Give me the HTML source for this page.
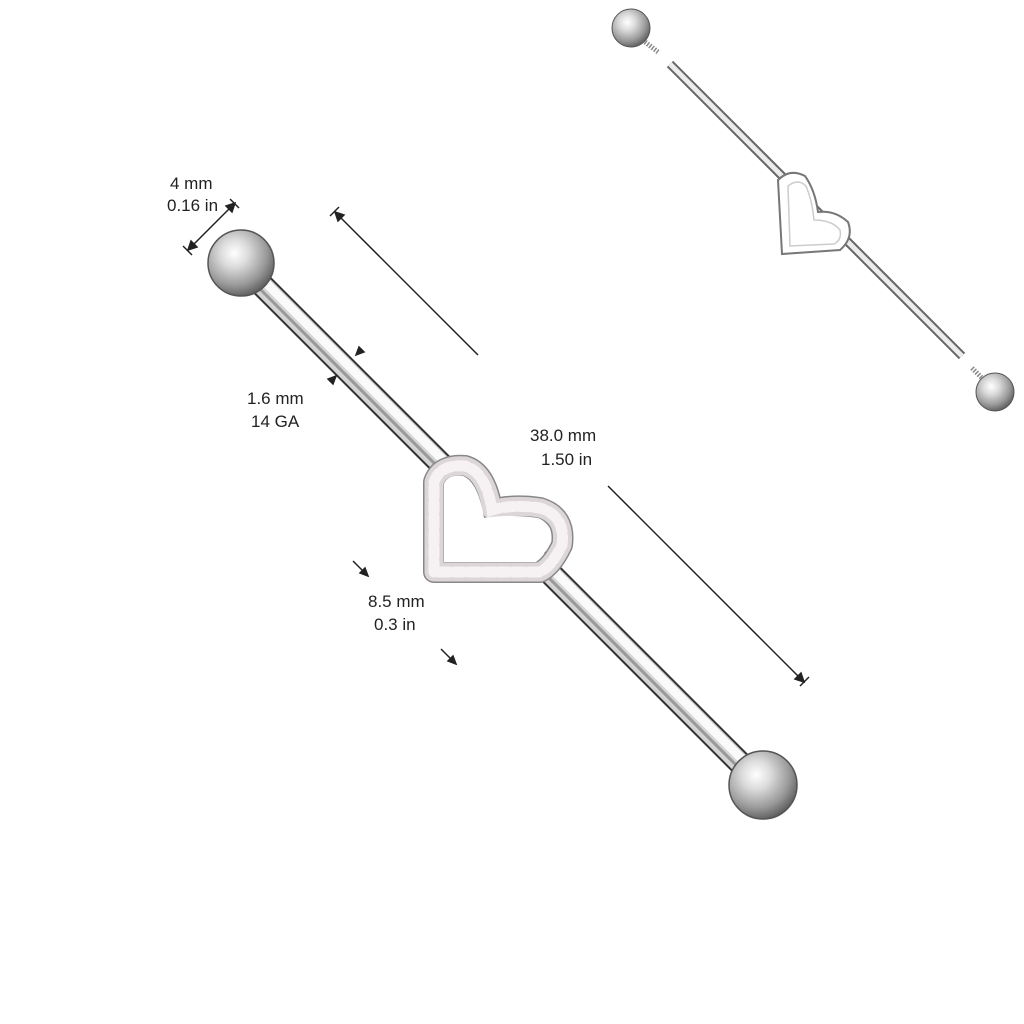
<!DOCTYPE html>
<html><head><style>
body{margin:0;background:#fff;width:1024px;height:1024px;overflow:hidden}
svg{position:absolute;left:0;top:0}
text{font-family:"Liberation Sans",sans-serif;font-size:17px;fill:#222}
</style></head><body>
<svg width="1024" height="1024" viewBox="0 0 1024 1024">
<defs>
<radialGradient id="ball" cx="0.4" cy="0.35" r="0.7">
<stop offset="0" stop-color="#fff"/><stop offset="0.3" stop-color="#dcdcdc"/><stop offset="0.7" stop-color="#999"/><stop offset="1" stop-color="#555"/>
</radialGradient>
</defs>
<g>
<line x1="262" y1="285" x2="742" y2="765" stroke="#333" stroke-width="24"/>
<line x1="262" y1="285" x2="742" y2="765" stroke="#d4d4d4" stroke-width="20"/>
<line x1="265" y1="282" x2="745" y2="762" stroke="#fafafa" stroke-width="9"/>
<line x1="259" y1="288" x2="739" y2="768" stroke="#999" stroke-width="3"/>
</g>
<circle cx="241" cy="263" r="33" fill="url(#ball)" stroke="#555" stroke-width="1.5"/>
<circle cx="763" cy="785" r="34" fill="url(#ball)" stroke="#555" stroke-width="1.5"/>
<path d="M434 572 L434 482 Q440 464 465 466 Q486 472 492 510 Q512 504 540 508 Q566 516 562 545 Q552 566 540 572 Z" fill="none" stroke="#888" stroke-width="22" stroke-linejoin="round"/>
<path d="M434 572 L434 482 Q440 464 465 466 Q486 472 492 510 Q512 504 540 508 Q566 516 562 545 Q552 566 540 572 Z" fill="none" stroke="#dcd6d9" stroke-width="19" stroke-linejoin="round"/>
<path d="M434 572 L434 482 Q440 464 465 466 Q486 472 492 510 Q512 504 540 508 Q566 516 562 545 Q552 566 540 572 Z" fill="none" stroke="#f6f2f4" stroke-width="11" stroke-dasharray="10 5" stroke-linecap="round"/>
<path d="M444 562 L444 484 Q448 474 463 476 Q478 482 484 518 Q510 514 538 518 Q553 524 550 543 Q544 556 536 562 Z" fill="#fff"/>
<line x1="670" y1="64" x2="962" y2="356" stroke="#666" stroke-width="9"/>
<line x1="670" y1="64" x2="962" y2="356" stroke="#ececec" stroke-width="5"/>
<path d="M778 180 Q790 168 805 176 Q815 190 818 212 Q835 210 848 222 Q854 238 840 250 L782 254 Z" fill="#fff" stroke="#777" stroke-width="2"/>
<path d="M788 186 Q798 178 806 186 Q812 200 814 220 Q832 220 840 230 Q842 240 834 244 L790 246 Z" fill="#fff" stroke="#ccc" stroke-width="1.5"/>
<circle cx="631" cy="28" r="19" fill="url(#ball)" stroke="#555"/>
<line x1="645" y1="42" x2="658" y2="52" stroke="#888" stroke-width="5" stroke-dasharray="1.5 1.5"/>
<circle cx="995" cy="392" r="19" fill="url(#ball)" stroke="#555"/>
<line x1="972" y1="368" x2="982" y2="378" stroke="#888" stroke-width="5" stroke-dasharray="1.5 1.5"/>
<g stroke="#222" stroke-width="1.5" fill="#222">
<line x1="188" y1="250" x2="235" y2="203"/>
<path d="M188 250 l3 -9 l6 6 z M235 203 l-3 9 l-6 -6 z"/>
<line x1="183" y1="246" x2="192" y2="255"/><line x1="230" y1="199" x2="239" y2="208"/>
<line x1="335" y1="212" x2="478" y2="355"/>
<line x1="608" y1="486" x2="804" y2="682"/>
<path d="M335 212 l9 3 l-6 6 z M804 682 l-9 -3 l6 -6 z"/>
<line x1="330" y1="216" x2="339" y2="207"/><line x1="800" y1="686" x2="809" y2="677"/>
<line x1="362" y1="349" x2="356" y2="355"/><path d="M356 355 l3 -8 l5 5 z"/>
<line x1="330" y1="382" x2="336" y2="376"/><path d="M336 376 l-3 8 l-5 -5 z"/>
<line x1="353" y1="561" x2="368" y2="576"/><path d="M368 576 l-8 -3 l5 -5 z"/>
<line x1="441" y1="649" x2="456" y2="664"/><path d="M456 664 l-8 -3 l5 -5 z"/>
</g>
<text x="170" y="189">4 mm</text><text x="167" y="211">0.16 in</text>
<text x="530" y="441">38.0 mm</text><text x="541" y="465">1.50 in</text>
<text x="247" y="404">1.6 mm</text><text x="251" y="427">14 GA</text>
<text x="368" y="607">8.5 mm</text><text x="374" y="630">0.3 in</text>
</svg>
</body></html>
